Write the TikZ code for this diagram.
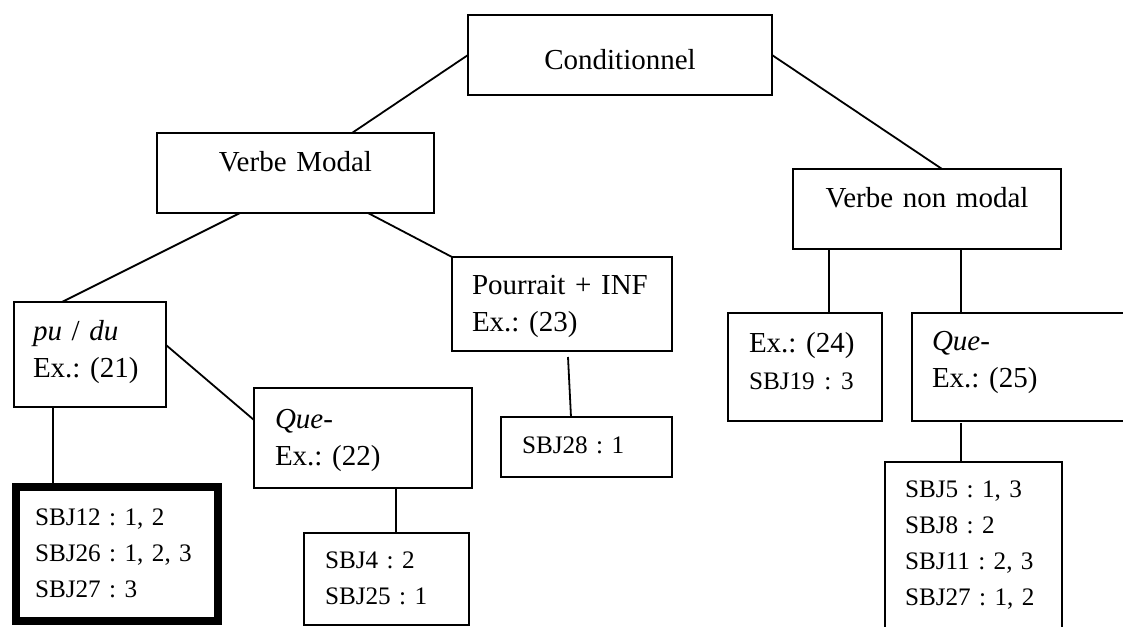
\documentclass[tikz,border=0pt]{standalone}
\usepackage{fontspec}
\setmainfont{Liberation Serif}
\frenchspacing
\newcommand{\sbjfont}{\fontsize{25.2}{36}\selectfont}

\begin{document}
\begin{tikzpicture}[x=1pt,y=-1pt,
	box/.style={draw, line width=1.8pt, anchor=north west, align=left, inner xsep=21pt, inner ysep=0pt, outer sep=0pt, font=\fontsize{29}{37}\selectfont},
	sbj/.style={box, font=\sbjfont},
	conn/.style={line width=1.8pt}]
		\useasboundingbox (0,0) rectangle (1123,626);
		\clip (0,0) rectangle (1123,626);
		\node[box, align=center, text width=262pt, text height=55pt, text depth=25pt] (cond) at (468,15) {Conditionnel};
		\node[box, align=center, text width=235pt, text height=38pt, text depth=42pt] (vm) at (157,133) {Verbe Modal};
		\node[box, align=center, text width=226pt, text height=38pt, text depth=42pt] (vnm) at (793,169) {Verbe non modal};
		\node[box, inner xsep=19pt, text width=114pt, text height=38pt, text depth=67pt] (pudu) at (14,302) {\textit{pu} / \textit{du}\\Ex.: (21)};
		\node[box, inner xsep=20pt, text width=180pt, text height=37pt, text depth=57pt] (pourrait) at (452,257) {Pourrait + INF\\Ex.: (23)};
		\node[box, text width=176pt, text height=40pt, text depth=60pt] (que22) at (254,388) {\textit{Que-}\\Ex.: (22)};
		\node[sbj, text width=129pt, text height=36pt, text depth=24pt] (sbj28) at (501,417) {SBJ28 : 1};
		\node[sbj, text width=123pt, text height=35pt, text depth=57pt] (sbj4) at (304,533) {SBJ4 : 2\\SBJ25 : 1};
		\node[sbj, line width=8pt, inner xsep=19pt, text width=164pt, text height=38pt, text depth=96pt] (sbj12) at (16,487) {SBJ12 : 1, 2\\SBJ26~:~1,~2,~3\\SBJ27 : 3};
		\node[box, text width=112pt, text height=39pt, text depth=69pt] (ex24) at (728,313) {Ex.: (24)\\{\sbjfont SBJ19 : 3}};
		\node[box, inner xsep=20pt, text width=220pt, text height=37pt, text depth=71pt] (que25) at (912,313) {\textit{Que-}\\Ex.: (25)};
		\node[sbj, inner xsep=20pt, text width=137pt, text height=35pt, text depth=165pt] (sbj5) at (885,462) {SBJ5 : 1, 3\\SBJ8 : 2\\SBJ11 : 2, 3\\SBJ27 : 1, 2};
		\draw[conn] (cond.west) -- ([xshift=56.5pt]vm.north);
		\draw[conn] (cond.east) -- ([xshift=15pt]vnm.north);
		\draw[conn] ([xshift=-55.5pt]vm.south) -- ([xshift=-28pt]pudu.north);
		\draw[conn] ([xshift=72.5pt]vm.south) -- (pourrait.north west);
		\draw[conn] ([xshift=-37pt]pudu.south) -- ([xshift=-64pt]sbj12.north);
		\draw[conn] ([yshift=9.5pt]pudu.east) -- ([yshift=18pt]que22.west);
		\draw[conn] ([xshift=33pt]que22.south) -- ([xshift=9.5pt]sbj4.north);
		\draw[conn] ([xshift=6pt,yshift=-6pt]pourrait.south) -- ([xshift=-15.5pt]sbj28.north);
		\draw[conn] ([xshift=-98pt]vnm.south) -- ([xshift=24pt]ex24.north);
		\draw[conn] ([xshift=34pt]vnm.south) -- ([xshift=-81pt]que25.north);
		\draw[conn] ([xshift=-81pt,yshift=-2pt]que25.south) -- ([xshift=-12.5pt]sbj5.north);
	\end{tikzpicture}
\end{document}
